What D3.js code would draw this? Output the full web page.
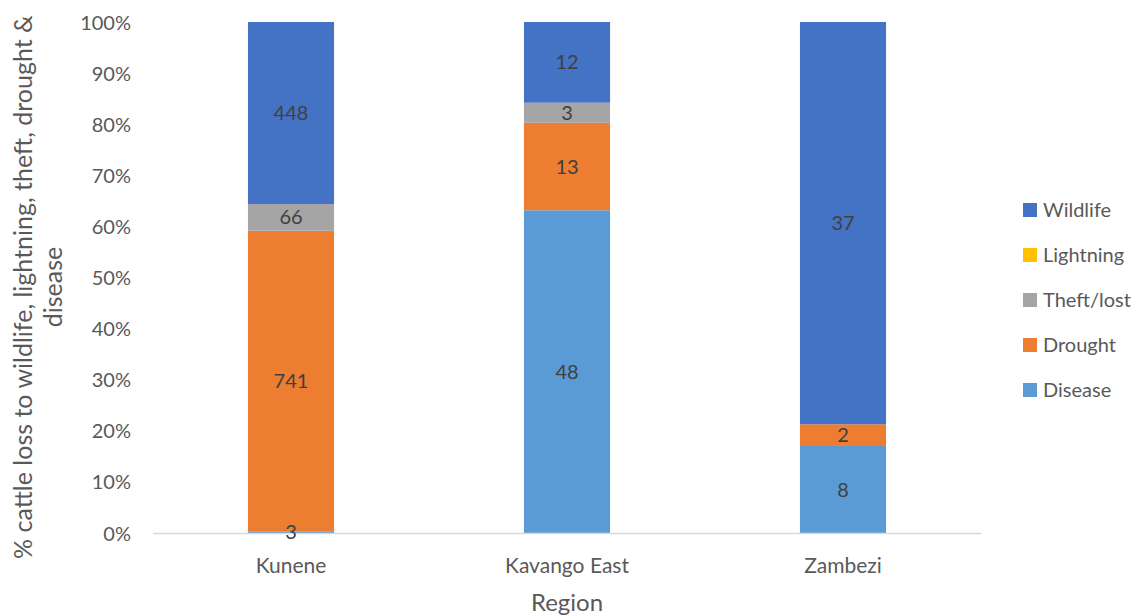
<!DOCTYPE html>
<html>
<head>
<meta charset="utf-8">
<script src="https://cdn.jsdelivr.net/npm/d3@7"></script>
<style>
  html, body { margin: 0; padding: 0; background: #fff; }
  svg text { font-family: Lato, "Open Sans", sans-serif; }
</style>
</head>
<body>
<svg id="chart" width="1145" height="616"></svg>
<script>
// Cattle losses by cause, per region (head counts)
const regions   = ["Kunene", "Kavango East", "Zambezi"];
const disease   = [3, 48, 8];
const drought   = [741, 13, 2];
const theftLost = [66, 3, 0];
const lightning = [0, 0, 0];
const wildlife  = [448, 12, 37];

const seriesNames  = ["Disease", "Drought", "Theft/lost", "Lightning", "Wildlife"];
const seriesValues = [disease, drought, theftLost, lightning, wildlife];
const seriesColors = ["#5B9BD5", "#ED7D31", "#A5A5A5", "#FFC000", "#4472C4"];
const yTicks = [0, 0.1, 0.2, 0.3, 0.4, 0.5, 0.6, 0.7, 0.8, 0.9, 1.0];

const rows = regions.map((r, i) => {
  const row = { region: r };
  seriesNames.forEach((s, j) => { row[s] = seriesValues[j][i]; });
  return row;
});

const svg = d3.select("#chart");
const plot = { left: 153, right: 981, top: 22, bottom: 533 };

const x = d3.scaleBand()
  .domain(regions)
  .range([plot.left, plot.right])
  .paddingInner(0.688)
  .paddingOuter(0.344);

const y = d3.scaleLinear().domain([0, 1]).range([plot.bottom, plot.top]);
const color = d3.scaleOrdinal().domain(seriesNames).range(seriesColors);

const stacked = d3.stack()
  .keys(seriesNames)
  .offset(d3.stackOffsetExpand)(rows);

// Bars
const layers = svg.append("g").selectAll("g")
  .data(stacked)
  .join("g")
  .attr("fill", d => color(d.key));

layers.selectAll("rect")
  .data(d => d.map(p => ({ key: d.key, p })))
  .join("rect")
  .attr("x", d => x(d.p.data.region))
  .attr("width", x.bandwidth())
  .attr("y", d => y(d.p[1]))
  .attr("height", d => Math.max(0, y(d.p[0]) - y(d.p[1])));

// X axis line
svg.append("line")
  .attr("x1", plot.left).attr("x2", plot.right)
  .attr("y1", plot.bottom + 0.5).attr("y2", plot.bottom + 0.5)
  .attr("stroke", "#D9D9D9").attr("stroke-width", 1.5);

// Y tick labels
const yAxis = d3.axisLeft(y).tickValues(yTicks).tickFormat(d3.format(".0%")).tickSize(0).tickPadding(0);
const yg = svg.append("g").attr("transform", `translate(131,0)`).call(yAxis);
yg.select(".domain").remove();
yg.selectAll("text")
  .attr("fill", "#595959")
  .style("font-size", "20px")
  .style("font-family", "Lato, 'Open Sans', sans-serif")
  .attr("dy", "0.35em");

// X tick labels
const xAxis = d3.axisBottom(x).tickSize(0).tickPadding(0);
const xg = svg.append("g").attr("transform", `translate(0,${plot.bottom})`).call(xAxis);
xg.select(".domain").remove();
xg.selectAll("text")
  .attr("fill", "#595959")
  .style("font-size", "21px")
  .style("font-family", "Lato, 'Open Sans', sans-serif")
  .attr("y", 40).attr("dy", 0);

// Data labels, drawn above every bar segment and the axis line
const labelData = stacked.flatMap(s => s.map(p => ({ key: s.key, p })))
  .filter(d => d.p.data[d.key] > 0);
svg.append("g").selectAll("text")
  .data(labelData)
  .join("text")
  .attr("x", d => x(d.p.data.region) + x.bandwidth() / 2)
  .attr("y", d => (y(d.p[0]) + y(d.p[1])) / 2)
  .attr("dy", "0.35em")
  .attr("text-anchor", "middle")
  .attr("fill", "#404040")
  .style("font-size", "20px")
  .text(d => d.p.data[d.key]);

// Axis titles
svg.append("text")
  .attr("x", (plot.left + plot.right) / 2)
  .attr("y", 611)
  .attr("text-anchor", "middle")
  .attr("fill", "#595959")
  .style("font-size", "24px")
  .text("Region");

const yTitle = svg.append("text")
  .attr("transform", "rotate(-90)")
  .attr("text-anchor", "middle")
  .attr("fill", "#595959")
  .style("font-size", "25px");
yTitle.append("tspan").attr("x", -287).attr("y", 32)
  .text("% cattle loss to wildlife, lightning, theft, drought &");
yTitle.append("tspan").attr("x", -287).attr("y", 62)
  .text("disease");

// Legend (top to bottom in reverse stacking order)
const legendNames = seriesNames.slice().reverse();
const legend = svg.append("g").selectAll("g")
  .data(legendNames)
  .join("g")
  .attr("transform", (d, i) => `translate(1023,${210 + i * 45})`);
legend.append("rect")
  .attr("x", 0).attr("y", -7).attr("width", 14).attr("height", 14)
  .attr("fill", d => color(d));
legend.append("text")
  .attr("x", 20).attr("y", 0).attr("dy", "0.35em")
  .attr("fill", "#595959")
  .style("font-size", "20px")
  .text(d => d);
</script>
</body>
</html>
